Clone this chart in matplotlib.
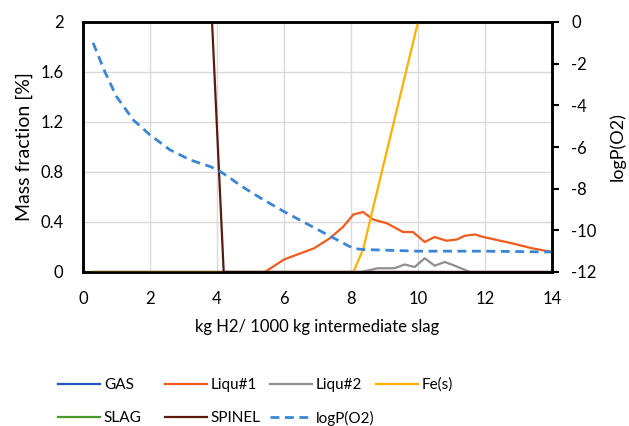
import matplotlib
matplotlib.use("Agg")
import matplotlib.pyplot as plt
from matplotlib.lines import Line2D
from matplotlib.ticker import FuncFormatter, MultipleLocator

# ---- data ----
gas_x = [0.3, 14.0]
gas_y = [0.0, 0.0]

liq1_x = [0.3, 5.43, 6.0, 6.9, 7.37, 7.76, 8.07, 8.36, 8.66, 9.07, 9.55, 9.85, 10.2, 10.5, 10.85, 11.16, 11.4, 11.7, 11.95, 12.8, 13.4, 14.0]
liq1_y = [0.0, 0.0, 0.10, 0.19, 0.27, 0.36, 0.46, 0.48, 0.42, 0.39, 0.32, 0.32, 0.24, 0.28, 0.25, 0.26, 0.29, 0.30, 0.28, 0.23, 0.19, 0.16]

liq2_x = [0.3, 8.3, 8.8, 9.3, 9.6, 9.9, 10.2, 10.5, 10.8, 11.1, 11.55, 14.0]
liq2_y = [0.0, 0.0, 0.03, 0.03, 0.06, 0.04, 0.11, 0.05, 0.08, 0.05, 0.0, 0.0]

fe_x = [0.3, 8.07, 8.36, 10.0]
fe_y = [0.0, 0.0, 0.18, 2.0]

slag_x = [0.3, 14.0]
slag_y = [95.0, 97.0]

spinel_x = [0.3, 3.8, 4.2, 14.0]
spinel_y = [4.0, 2.3, 0.0, 0.0]

logp_x = [0.3, 0.65, 1.0, 1.5, 2.0, 2.6, 3.2, 3.8, 4.1, 4.4, 4.7, 5.3, 6.0, 6.7, 7.4, 8.07, 8.36, 10.0, 12.0, 14.0]
logp_y = [-1.0, -2.38, -3.58, -4.7, -5.42, -6.14, -6.62, -6.94, -7.18, -7.5, -7.85, -8.45, -9.1, -9.7, -10.3, -10.87, -10.92, -11.0, -11.0, -11.04]

# ---- figure ----
plt.rcParams['font.family'] = ['Lato', 'DejaVu Sans']
fig = plt.figure(figsize=(6.29, 4.26), dpi=100)
ax = fig.add_axes([83/629, 1-272/426, (552-83)/629, 250/426])
ax2 = ax.twinx()

lw = 1.6
h_gas, = ax.plot(gas_x, gas_y, color='#2A52C4', lw=lw, label='GAS', zorder=2)
h_l1, = ax.plot(liq1_x, liq1_y, color='#F05A1A', lw=lw, label='Liqu#1', zorder=3)
h_l2, = ax.plot(liq2_x, liq2_y, color='#8F8F8F', lw=lw, label='Liqu#2', zorder=3)
h_fe, = ax.plot(fe_x, fe_y, color='#FFB000', lw=lw, label='Fe(s)', zorder=4)
h_slag, = ax.plot(slag_x, slag_y, color='#4A9A2A', lw=lw, label='SLAG', zorder=3)
h_sp, = ax.plot(spinel_x, spinel_y, color='#5A1A0C', lw=lw, label='SPINEL', zorder=5)
h_lp, = ax2.plot(logp_x, logp_y, color='#3A86D4', lw=2.0, ls=(0, (3.2, 2.0)), label='logP(O2)')

ax.set_xlim(0, 14)
ax.set_ylim(0, 2)
ax2.set_ylim(-12, 0)
ax.xaxis.set_major_locator(MultipleLocator(2))
ax.yaxis.set_major_locator(MultipleLocator(0.4))
ax2.yaxis.set_major_locator(MultipleLocator(2))

ax.yaxis.set_major_formatter(FuncFormatter(lambda v, p: ('%g' % round(v, 2))))
ax2.yaxis.set_major_formatter(FuncFormatter(lambda v, p: ('%d' % round(v))))

ax.grid(True, color='#D9D9D9', lw=1)
ax.set_axisbelow(True)
ax.tick_params(axis='y', length=0, labelsize=12, pad=14)
ax.tick_params(axis='x', length=0, labelsize=12, pad=14)
ax2.tick_params(axis='y', length=5, width=1.5, direction='out', labelsize=12, pad=9)

for a in (ax, ax2):
    for s in a.spines.values():
        s.set_color('black')
        s.set_linewidth(1.8)

ax.set_ylabel('Mass fraction [%]', fontsize=14, labelpad=5)
ax2.set_ylabel('logP(O2)', fontsize=13, labelpad=9)
ax.set_xlabel('kg H2/ 1000 kg intermediate slag', fontsize=12, labelpad=8)

# legend entries laid out on an even grid, like the original
entries = [(h_gas, 58, 385), (h_l1, 165, 385), (h_l2, 270, 385), (h_fe, 376, 385),
           (h_slag, 58, 418), (h_sp, 165, 418), (h_lp, 270, 418)]
for h, px, py in entries:
    fig.legend(handles=[h], labels=[h.get_label()], loc='center left',
               bbox_to_anchor=(px/629, 1-py/426), frameon=False, fontsize=11,
               handlelength=2.75, handletextpad=0.25, borderpad=0, borderaxespad=0)

fig.savefig('out.png', dpi=100)
